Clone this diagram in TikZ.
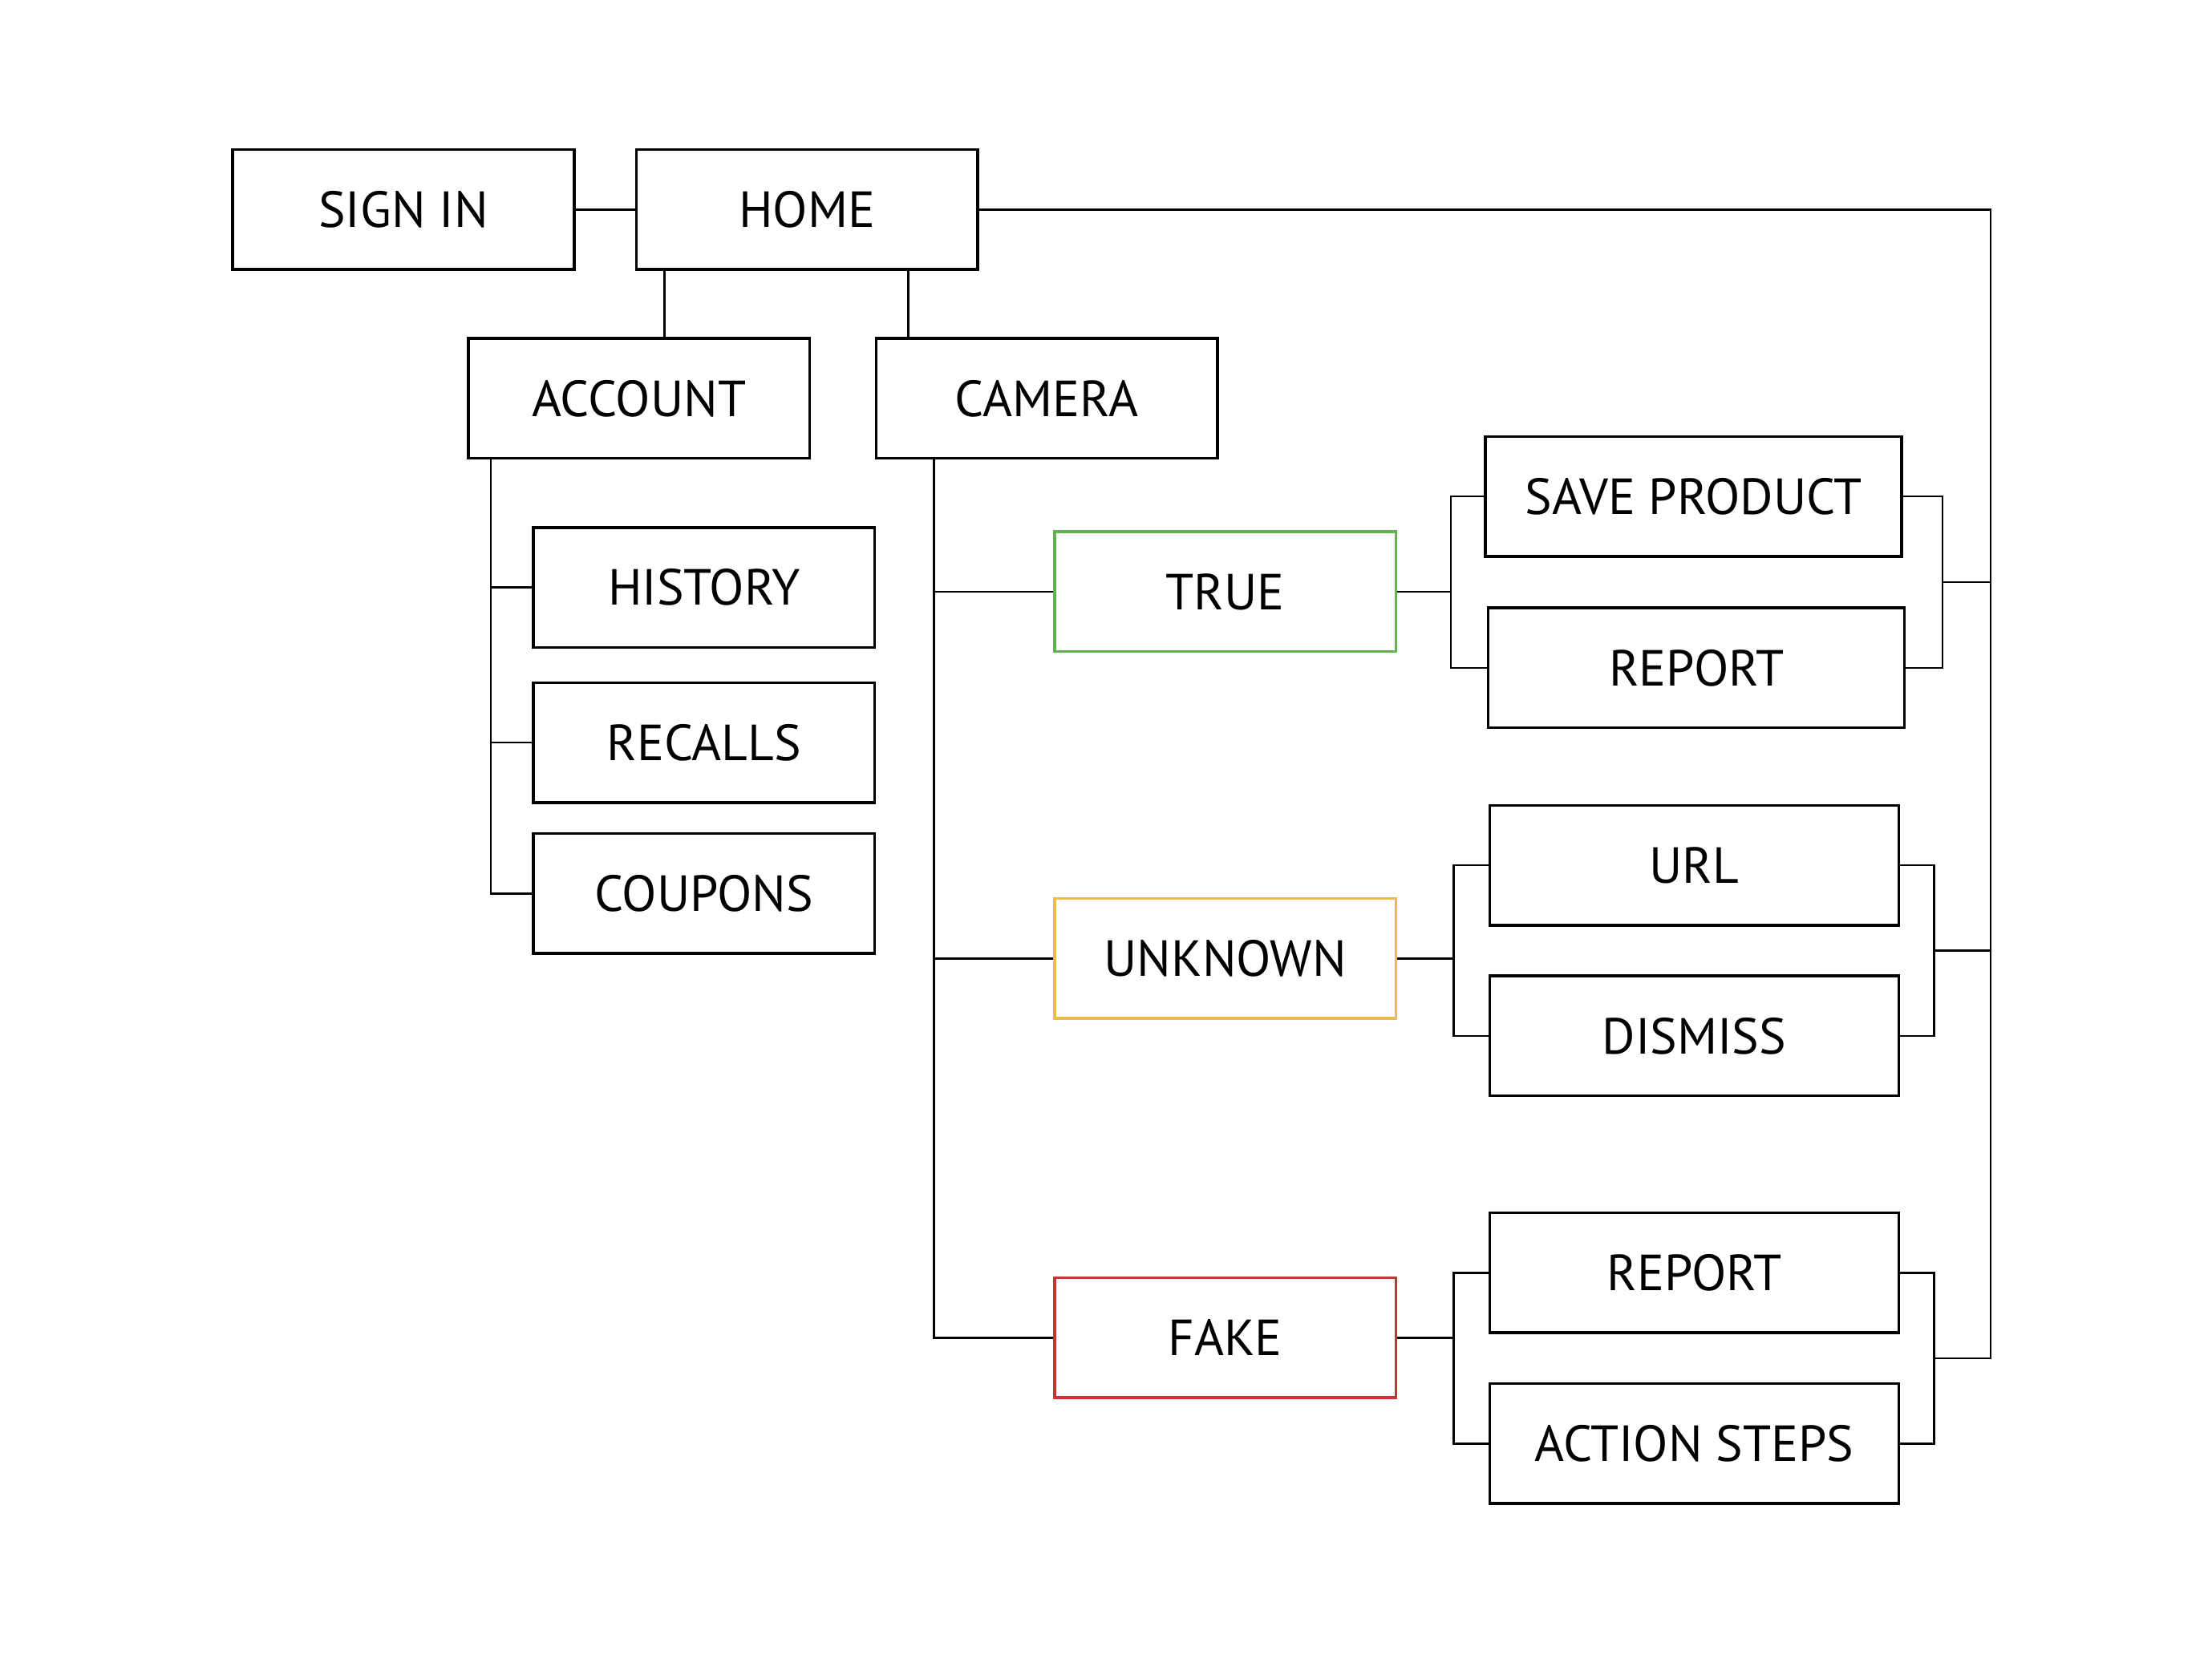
\documentclass[tikz,border=0pt]{standalone}
\usepackage{fontspec}
\setmainfont{PT Sans}
\usetikzlibrary{calc}
\definecolor{tgreen}{RGB}{96,180,80}
\definecolor{tyellow}{RGB}{236,190,70}
\definecolor{tred}{RGB}{200,50,50}
\begin{document}
\begin{tikzpicture}[x=0.5pt,y=-0.5pt,
  box/.style={draw=black,line width=1pt,minimum width=121pt,minimum height=42.5pt,inner sep=0pt,font=\fontsize{18}{21}\selectfont},
  wbox/.style={box,minimum width=146pt},
  link/.style={draw=black,line width=0.75pt}]
\useasboundingbox (0,0) rectangle (1568,1176);
\fill[white] (0,0) rectangle (1568,1176);
% nodes
\node[box] (signin) at (286,148.5) {SIGN IN};
\node[box] (home) at (572,148.5) {HOME};
\node[box] (account) at (453,282.5) {ACCOUNT};
\node[box] (camera) at (742,282.5) {CAMERA};
\node[box] (history) at (499,416.5) {HISTORY};
\node[box] (recalls) at (499,526.5) {RECALLS};
\node[box] (coupons) at (499,633.5) {COUPONS};
\node[box,draw=tgreen] (true) at (868.5,419.5) {TRUE};
\node[box,draw=tyellow] (unknown) at (868.5,679.5) {UNKNOWN};
\node[box,draw=tred] (fake) at (868.5,948.5) {FAKE};
\node[wbox,minimum width=147.5pt] (save) at (1200.5,352) {SAVE PRODUCT};
\node[wbox,minimum width=147.5pt] (report1) at (1202.5,473.5) {REPORT};
\node[wbox,minimum width=145pt] (url) at (1201,613.5) {URL};
\node[wbox,minimum width=145pt] (dismiss) at (1201,734.5) {DISMISS};
\node[wbox,minimum width=145pt] (report2) at (1201,902.5) {REPORT};
\node[wbox,minimum width=145pt] (action) at (1201,1023.5) {ACTION STEPS};
% helper coordinates
\coordinate (ha) at ([xshift=10.5pt]home.south west);
\coordinate (hc) at ([xshift=97pt]home.south west);
\coordinate (at) at ([xshift=8.5pt]account.south west);
\coordinate (ct) at ([xshift=21pt]camera.south west);
\coordinate (tj) at ([xshift=19pt]true.east);
\coordinate (uj) at ([xshift=20pt]unknown.east);
\coordinate (fj) at ([xshift=20pt]fake.east);
\coordinate (rj1) at ([xshift=14pt]save.east);
\coordinate (rj2) at ([xshift=12pt]url.east);
\coordinate (rj3) at ([xshift=12pt]report2.east);
\coordinate (bus) at ([xshift=358.5pt]home.east);
\coordinate (m1) at ($(save.east -| rj1)!0.5!(report1.east -| rj1)$);
\coordinate (m2) at ($(url.east -| rj2)!0.5!(dismiss.east -| rj2)$);
\coordinate (m3) at ($(report2.east -| rj3)!0.5!(action.east -| rj3)$);
% top
\draw[link] (signin.east) -- (home.west);
\draw[link] (ha) -- (ha |- account.north);
\draw[link] (hc) -- (hc |- camera.north);
% account trunk
\draw[link] (at) |- (coupons.west);
\draw[link] (history.west) -- (history.west -| at);
\draw[link] (recalls.west) -- (recalls.west -| at);
% camera trunk
\draw[link] (ct) |- (fake.west);
\draw[link] (true.west) -- (true.west -| ct);
\draw[link] (unknown.west) -- (unknown.west -| ct);
% true group
\draw[link] (true.east) -- (tj);
\draw[link] (save.west) -- (save.west -| tj) -- (report1.west -| tj) -- (report1.west);
\draw[link] (save.east) -- (save.east -| rj1) -- (report1.east -| rj1) -- (report1.east);
% unknown group
\draw[link] (unknown.east) -- (uj);
\draw[link] (url.west) -- (url.west -| uj) -- (dismiss.west -| uj) -- (dismiss.west);
\draw[link] (url.east) -- (url.east -| rj2) -- (dismiss.east -| rj2) -- (dismiss.east);
% fake group
\draw[link] (fake.east) -- (fj);
\draw[link] (report2.west) -- (report2.west -| fj) -- (action.west -| fj) -- (action.west);
\draw[link] (report2.east) -- (report2.east -| rj3) -- (action.east -| rj3) -- (action.east);
% bus
\draw[link] (home.east) -| (bus |- m3) -- (m3);
\draw[link] (m1) -- (m1 -| bus);
\draw[link] (m2) -- (m2 -| bus);
\end{tikzpicture}
\end{document}
